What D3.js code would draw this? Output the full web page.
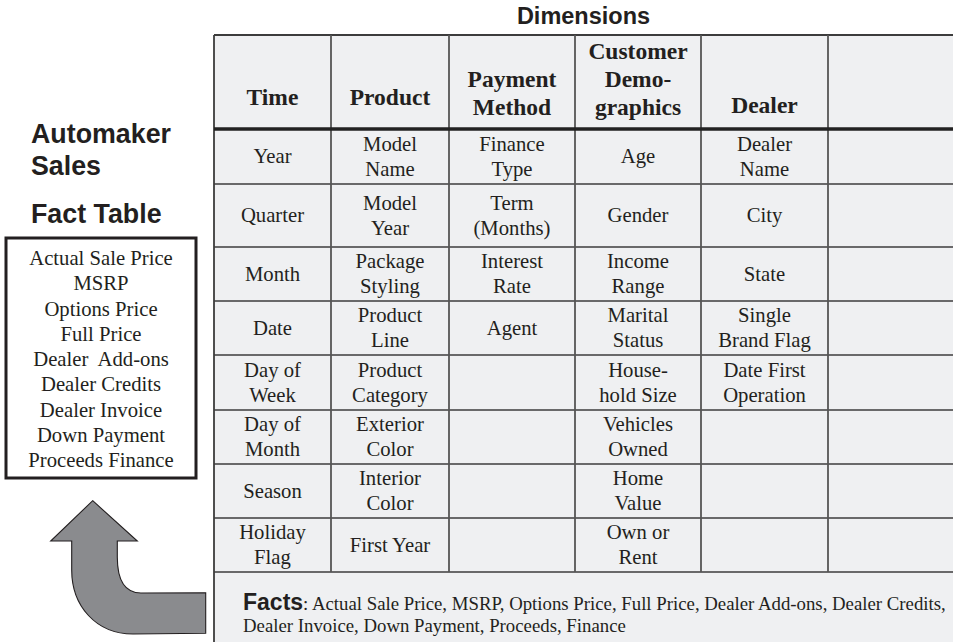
<!DOCTYPE html>
<html>
<head>
<meta charset="utf-8">
<script src="https://cdn.jsdelivr.net/npm/d3@7/dist/d3.min.js"></script>
<style>
  html, body { margin: 0; padding: 0; background: #fff; }
  svg { display: block; }
  text { white-space: pre; }
</style>
</head>
<body>
<script>
// ---------------- DATA ----------------
const dimensionTitle = "Dimensions";
const factTitle = ["Automaker", "Sales", "Fact Table"];
const headerLines = [["Time"], ["Product"], ["Payment", "Method"], ["Customer", "Demo-", "graphics"], ["Dealer"], []];
const timeAttrs = ["Year", "Quarter", "Month", "Date", "Day of\nWeek", "Day of\nMonth", "Season", "Holiday\nFlag"];
const productAttrs = ["Model\nName", "Model\nYear", "Package\nStyling", "Product\nLine", "Product\nCategory", "Exterior\nColor", "Interior\nColor", "First Year"];
const paymentAttrs = ["Finance\nType", "Term\n(Months)", "Interest\nRate", "Agent", "", "", "", ""];
const customerAttrs = ["Age", "Gender", "Income\nRange", "Marital\nStatus", "House-\nhold Size", "Vehicles\nOwned", "Home\nValue", "Own or\nRent"];
const dealerAttrs = ["Dealer\nName", "City", "State", "Single\nBrand Flag", "Date First\nOperation", "", "", ""];
const extraAttrs = ["", "", "", "", "", "", "", ""];
const factMeasures = ["Actual Sale Price", "MSRP", "Options Price", "Full Price", "Dealer  Add-ons", "Dealer Credits", "Dealer Invoice", "Down Payment", "Proceeds Finance"];
const factsLabel = "Facts";
const factsLines = [": Actual Sale Price, MSRP, Options Price, Full Price, Dealer Add-ons, Dealer Credits,",
                    "Dealer Invoice, Down Payment, Proceeds, Finance"];

const columns = [timeAttrs, productAttrs, paymentAttrs, customerAttrs, dealerAttrs, extraAttrs];

// ---------------- LAYOUT ----------------
const W = 953, H = 642;
const colEdges = [214, 331, 449, 575, 701, 828, 955];
const rowEdges = [129, 184, 247, 301, 355, 410, 464, 518, 572];
const tableTop = 35, tableBottom = 660;
const headerBaseline = [105, 105, 115, 115, 113, 0];
const serif = "'Liberation Serif', 'Times New Roman', serif";
const sans = "'Liberation Sans', Arial, Helvetica, sans-serif";
const ink = "#231f20";
const lineCol = "#3c3c3c";
const fillCol = "#eff0f2";

const svg = d3.select("body").append("svg").attr("width", W).attr("height", H);
svg.append("rect").attr("width", W).attr("height", H).attr("fill", "#fff");

// scales
const colIdx = d3.range(columns.length);
const xCol = i => colEdges[i];
const colW = i => colEdges[i + 1] - colEdges[i];
const rowIdx = d3.range(timeAttrs.length);
const yRow = d3.scaleOrdinal().domain(rowIdx).range(rowEdges.slice(0, -1));
const rowH = i => rowEdges[i + 1] - rowEdges[i];

// table background
svg.append("rect")
  .attr("x", colEdges[0]).attr("y", tableTop)
  .attr("width", colEdges[colEdges.length - 1] - colEdges[0])
  .attr("height", tableBottom - tableTop)
  .attr("fill", fillCol);

// horizontal row lines
svg.append("g").selectAll("line").data(rowEdges.slice(1))
  .join("line")
  .attr("x1", colEdges[0]).attr("x2", W + 5)
  .attr("y1", d => d).attr("y2", d => d)
  .attr("stroke", lineCol).attr("stroke-width", 1.6);

// top border
svg.append("line").attr("x1", colEdges[0]).attr("x2", W + 5)
  .attr("y1", tableTop).attr("y2", tableTop)
  .attr("stroke", lineCol).attr("stroke-width", 1.8);

// vertical column lines
svg.append("g").selectAll("line").data(colEdges.slice(1, -1))
  .join("line")
  .attr("x1", d => d).attr("x2", d => d)
  .attr("y1", tableTop).attr("y2", rowEdges[rowEdges.length - 1])
  .attr("stroke", "#555").attr("stroke-width", 1.8);

// left border
svg.append("line").attr("x1", colEdges[0]).attr("x2", colEdges[0])
  .attr("y1", tableTop).attr("y2", H + 5)
  .attr("stroke", lineCol).attr("stroke-width", 1.8);

// thick header line
svg.append("line").attr("x1", colEdges[0]).attr("x2", W + 5)
  .attr("y1", rowEdges[0]).attr("y2", rowEdges[0])
  .attr("stroke", "#222").attr("stroke-width", 3.4);

// header text
const hdr = svg.append("g").selectAll("text").data(colIdx).join("text")
  .attr("font-family", serif).attr("font-weight", "bold").attr("font-size", 23.5)
  .attr("fill", ink).attr("text-anchor", "middle");
hdr.each(function (i) {
  const lines = headerLines[i];
  const n = lines.length;
  d3.select(this).selectAll("tspan").data(lines).join("tspan")
    .attr("x", xCol(i) + colW(i) / 2)
    .attr("y", (d, k) => headerBaseline[i] - (n - 1 - k) * 28)
    .text(d => d);
});

// body cells
const cellG = svg.append("g");
columns.forEach((vals, ci) => {
  vals.forEach((v, ri) => {
    if (!v) return;
    const lines = v.split("\n");
    const n = lines.length;
    const cy = yRow(ri) + rowH(ri) / 2;
    const lh = 25;
    const t = cellG.append("text")
      .attr("font-family", serif).attr("font-size", 20.7)
      .attr("fill", ink).attr("text-anchor", "middle");
    t.selectAll("tspan").data(lines).join("tspan")
      .attr("x", xCol(ci) + colW(ci) / 2)
      .attr("y", (d, k) => cy - (n - 1) * lh / 2 + k * lh + 6.8)
      .text(d => d);
  });
});

// Dimensions title
svg.append("text").attr("x", (colEdges[0] + W) / 2).attr("y", 24)
  .attr("text-anchor", "middle").attr("font-family", sans).attr("font-weight", "bold")
  .attr("font-size", 23.5).attr("fill", ink).text(dimensionTitle);

// Fact table title
svg.append("g").selectAll("text").data(factTitle).join("text")
  .attr("x", 31).attr("y", (d, i) => [143, 175, 223][i])
  .attr("font-family", sans).attr("font-weight", "bold").attr("font-size", 26.8)
  .attr("fill", ink).text(d => d);

// fact box
svg.append("rect").attr("x", 6).attr("y", 238).attr("width", 190).attr("height", 240)
  .attr("fill", "#fff").attr("stroke", "#231f20").attr("stroke-width", 3);
const yFact = d3.scaleLinear().domain([0, factMeasures.length - 1]).range([265, 467]);
svg.append("g").selectAll("text").data(factMeasures).join("text")
  .attr("x", 101).attr("y", (d, i) => yFact(i))
  .attr("text-anchor", "middle").attr("font-family", serif).attr("font-size", 20.7)
  .attr("fill", ink).text(d => d);

// arrow
const arrowPath = "M 92.7,500.7 L 137.3,541 L 117.3,541 L 117.3,557 C 117.3,582 126,593 141,593 L 205.7,592.7 L 205.7,633.3 L 133,634 C 96,634 71.7,606 71.7,570 L 71.7,541 L 50.7,541 Z";
svg.append("path").attr("d", arrowPath)
  .attr("fill", "#8a8b8e").attr("stroke", "#231f20").attr("stroke-width", 1.1);

// facts text
const ft = svg.append("text").attr("x", 243).attr("y", 610).attr("fill", ink);
ft.append("tspan").attr("font-family", sans).attr("font-weight", "bold").attr("font-size", 23).text(factsLabel);
ft.append("tspan").attr("font-family", serif).attr("font-size", 18.8).text(factsLines[0]);
svg.append("text").attr("x", 243).attr("y", 632).attr("fill", ink)
  .attr("font-family", serif).attr("font-size", 18.8).text(factsLines[1]);
</script>
</body>
</html>
